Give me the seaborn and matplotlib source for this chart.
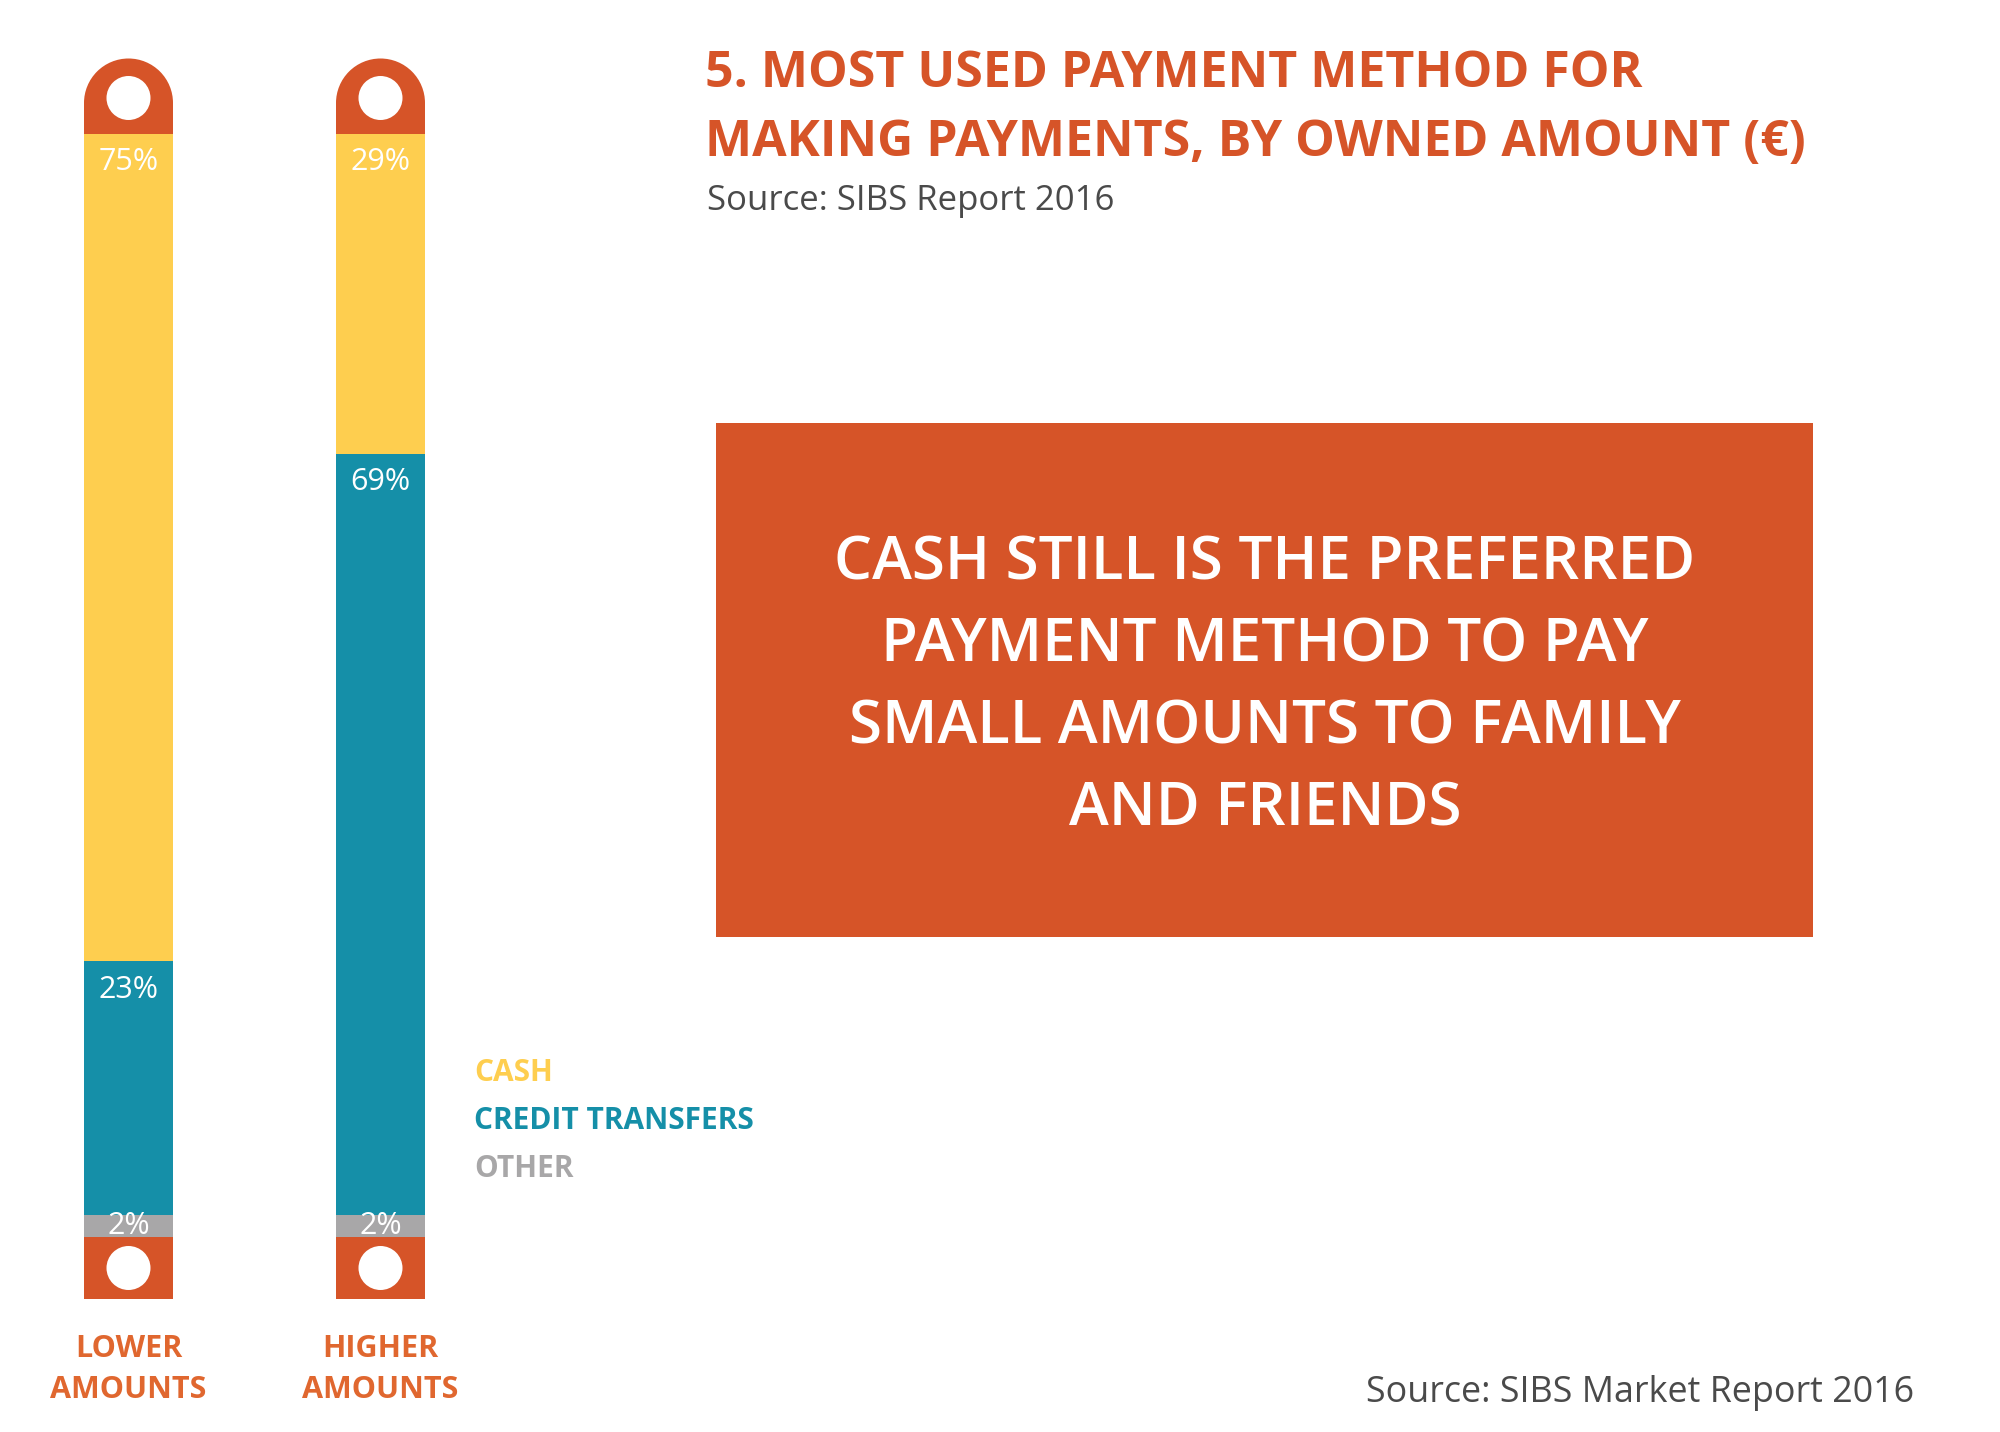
import numpy as np
import pandas as pd
import matplotlib
matplotlib.use("Agg")
import matplotlib.pyplot as plt
from matplotlib.patches import Rectangle, Circle, Wedge
import seaborn as sns

# ---------------- data ----------------
categories = ["LOWER\nAMOUNTS", "HIGHER\nAMOUNTS"]
cash = [75, 29]
credit_transfers = [23, 69]
other = [2, 2]
series_names = ["CASH", "CREDIT TRANSFERS", "OTHER"]

title_lines = ["5. MOST USED PAYMENT METHOD FOR", "MAKING PAYMENTS, BY OWNED AMOUNT (€)"]
subtitle = "Source: SIBS Report 2016"
box_lines = ["CASH STILL IS THE PREFERRED", "PAYMENT METHOD TO PAY",
             "SMALL AMOUNTS TO FAMILY", "AND FRIENDS"]
footer = "Source: SIBS Market Report 2016"

# ---------------- style ----------------
YELLOW = "#FECE4F"
TEAL = "#158FA8"
GREY = "#A8A7A8"
ORANGE = "#D65428"
LABEL_ORANGE = "#E0672F"
DARK = "#4A4A4A"

sns.set_theme(style="white")
plt.rcParams["font.family"] = ["Open Sans", "DejaVu Sans"]

W, H = 2000, 1432
fig = plt.figure(figsize=(W / 100, H / 100), dpi=100)

# overlay axes in pixel coordinates (top-left origin) for decorations
ov = fig.add_axes([0, 0, 1, 1], zorder=0)
ov.set_xlim(0, W)
ov.set_ylim(H, 0)
ov.axis("off")

# bar axes
ax = fig.add_axes([0, 1 - 1237 / H, 504 / W, 1103 / H], zorder=1)
ax.patch.set_alpha(0)

df = pd.DataFrame({"cat": categories, "cash": cash,
                   "credit": credit_transfers, "other": other})
df["top_credit"] = df["other"] + df["credit"]
df["top_cash"] = df["top_credit"] + df["cash"]

bw = 89 / 252
sns.barplot(data=df, x="cat", y="top_cash", color=YELLOW, saturation=1,
            width=bw, errorbar=None, ax=ax, linewidth=0)
sns.barplot(data=df, x="cat", y="top_credit", color=TEAL, saturation=1,
            width=bw, errorbar=None, ax=ax, linewidth=0)
sns.barplot(data=df, x="cat", y="other", color=GREY, saturation=1,
            width=bw, errorbar=None, ax=ax, linewidth=0)

ax.set_xlim(-128.5 / 252, (504 - 128.5) / 252)
ax.set_ylim(0, 100)
ax.set_xlabel("")
ax.set_ylabel("")
ax.set_yticks([])
sns.despine(ax=ax, left=True, bottom=True)
ax.tick_params(axis="x", length=0, pad=70)
for t in ax.get_xticklabels():
    t.set_fontsize(22)
    t.set_fontweight("bold")
    t.set_color(LABEL_ORANGE)
    t.set_linespacing(1.45)

# value labels
lab_kw = dict(ha="center", va="center", color="white", fontsize=22,
              textcoords="offset points")
for i in range(len(categories)):
    ax.annotate(f"{cash[i]}%", xy=(i, df["top_cash"][i]), xytext=(0, -20.5), **lab_kw)
    ax.annotate(f"{credit_transfers[i]}%", xy=(i, df["top_credit"][i]), xytext=(0, -20.5), **lab_kw)
    ax.annotate(f"{other[i]}%", xy=(i, other[i] / 2), xytext=(0, 0), **lab_kw)

# caps (tag shapes) above and below each bar
fig.canvas.draw()
for i in range(len(categories)):
    x0 = ax.transData.transform((i - bw / 2, 0))[0]
    x1 = ax.transData.transform((i + bw / 2, 0))[0]
    yb = H - ax.transData.transform((0, 0))[1]
    yt = H - ax.transData.transform((0, 100))[1]
    xc = (x0 + x1) / 2
    r = (x1 - x0) / 2
    # top cap
    cy = yt - 31
    ov.add_patch(Rectangle((x0, cy), x1 - x0, yt - cy, color=ORANGE, lw=0))
    ov.add_patch(Wedge((xc, cy), r, 180, 360, color=ORANGE, lw=0))
    ov.add_patch(Circle((xc, yt - 36), 22, color="white", lw=0))
    # bottom cap
    ov.add_patch(Rectangle((x0, yb), x1 - x0, 62, color=ORANGE, lw=0))
    ov.add_patch(Circle((xc, yb + 31), 22, color="white", lw=0))

# title
ov.text(705, 87, title_lines[0], fontsize=36, fontweight="bold", color=ORANGE, va="baseline")
ov.text(705, 156, title_lines[1], fontsize=36, fontweight="bold", color=ORANGE, va="baseline")
ov.text(707, 210, subtitle, fontsize=25, color=DARK, va="baseline")

# callout box
ov.add_patch(Rectangle((716, 423), 1097, 514, color=ORANGE, lw=0))
for k, line in enumerate(box_lines):
    ov.text(1265, 580 + 82 * k, line, fontsize=43.3, fontweight="semibold",
            color="white", ha="center", va="baseline")

# legend
for k, (name, col) in enumerate(zip(series_names, [YELLOW, TEAL, GREY])):
    ov.text(474, 1081 + 48 * k, name, fontsize=21.5, fontweight="bold",
            color=col, va="baseline")

# footer
ov.text(1914, 1402, footer, fontsize=25.8, color=DARK, ha="right", va="baseline")

fig.savefig("out.png", dpi=100, facecolor="white")
